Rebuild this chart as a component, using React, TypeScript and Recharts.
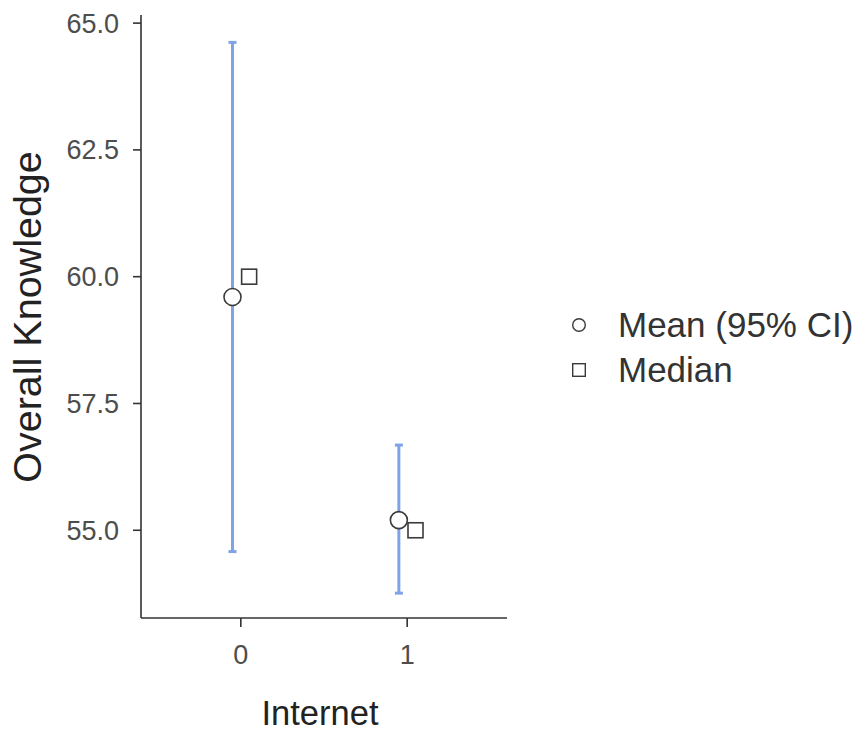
import { ScatterChart, Scatter, XAxis, YAxis, ErrorBar } from "recharts";

// Overall knowledge by internet access group
const groups = [0, 1];
const means = [59.6, 55.2];
const ciLower = [54.58, 53.76];
const ciUpper = [64.62, 56.68];
const medians = [60.0, 55.0];
const yTicks = [55, 57.5, 60, 62.5, 65];
const seriesNames = ["Mean (95% CI)", "Median"];

const DODGE = 0.05;
const FONT = "'Liberation Sans', Arial, Helvetica, sans-serif";
const AXIS_COLOR = "#333333";
const CI_COLOR = "#7ea3e6";

const meanRows = groups.map((g, i) => ({
  x: g - DODGE,
  y: means[i],
  err: [means[i] - ciLower[i], ciUpper[i] - means[i]],
}));

const medianRows = groups.map((g, i) => ({
  x: g + DODGE,
  y: medians[i],
}));

const CircleMark = (props: any) => (
  <circle cx={props.cx} cy={props.cy} r={8.5} fill="#ffffff" stroke="#3a3a3a" strokeWidth={1.6} />
);

const SquareMark = (props: any) => (
  <rect x={props.cx - 7.5} y={props.cy - 7.5} width={15} height={15} fill="#ffffff" stroke="#3a3a3a" strokeWidth={1.6} />
);

// Key drawn beside the plot panel
const KeyPanel = () => (
  <div style={{ position: "absolute", left: 565, top: 302, fontFamily: FONT }}>
    {seriesNames.map((name, i) => (
      <div key={name} style={{ display: "flex", alignItems: "center", height: 45 }}>
        <svg width={28} height={28} style={{ marginRight: 25 }}>
          {i === 0 ? (
            <circle cx={14} cy={14} r={6.3} fill="#fff" stroke="#3a3a3a" strokeWidth={1.4} />
          ) : (
            <rect x={7.7} y={7.7} width={12.6} height={12.6} fill="#fff" stroke="#3a3a3a" strokeWidth={1.4} />
          )}
        </svg>
        <span style={{ fontSize: 35, color: "#333333", whiteSpace: "nowrap" }}>{name}</span>
      </div>
    ))}
  </div>
);

export default function App() {
  return (
    <div style={{ position: "absolute", left: 0, top: 0, width: 857, height: 731, background: "#fff" }}>
      <ScatterChart
        width={857}
        height={731}
        margin={{ top: 15, right: 350, bottom: 0, left: 0 }}
      >
        <XAxis
          type="number"
          dataKey="x"
          domain={[-0.6, 1.6]}
          ticks={groups}
          allowDataOverflow
          height={113}
          tickSize={9}
          tickMargin={18}
          axisLine={{ stroke: AXIS_COLOR, strokeWidth: 1.6 }}
          tickLine={{ stroke: AXIS_COLOR, strokeWidth: 1.6 }}
          tick={{ fill: "#4d4d4d", fontSize: 27, fontFamily: FONT }}
          label={() => (
            <text x={320} y={725} textAnchor="middle" fontSize={34.5} fontFamily={FONT} fill="#222222">
              Internet
            </text>
          )}
        />
        <YAxis
          type="number"
          dataKey="y"
          domain={[53.27, 65.16]}
          ticks={yTicks}
          allowDataOverflow
          width={141}
          tickSize={8}
          tickMargin={14}
          tickFormatter={(v: number) => v.toFixed(1)}
          axisLine={{ stroke: AXIS_COLOR, strokeWidth: 1.6 }}
          tickLine={{ stroke: AXIS_COLOR, strokeWidth: 1.6 }}
          tick={{ fill: "#4d4d4d", fontSize: 27, fontFamily: FONT }}
          label={() => (
            <text
              x={41}
              y={317}
              transform="rotate(-90 41 317)"
              textAnchor="middle"
              fontSize={39.5}
              fontFamily={FONT}
              fill="#222222"
            >
              Overall Knowledge
            </text>
          )}
        />
        <Scatter
          name={seriesNames[0]}
          data={meanRows}
          shape={CircleMark}
          isAnimationActive={false}
        >
          <ErrorBar dataKey="err" direction="y" width={4} stroke={CI_COLOR} strokeWidth={3} isAnimationActive={false} />
        </Scatter>
        <Scatter
          name={seriesNames[1]}
          data={medianRows}
          shape={SquareMark}
          isAnimationActive={false}
        />
      </ScatterChart>
      <KeyPanel />
    </div>
  );
}
